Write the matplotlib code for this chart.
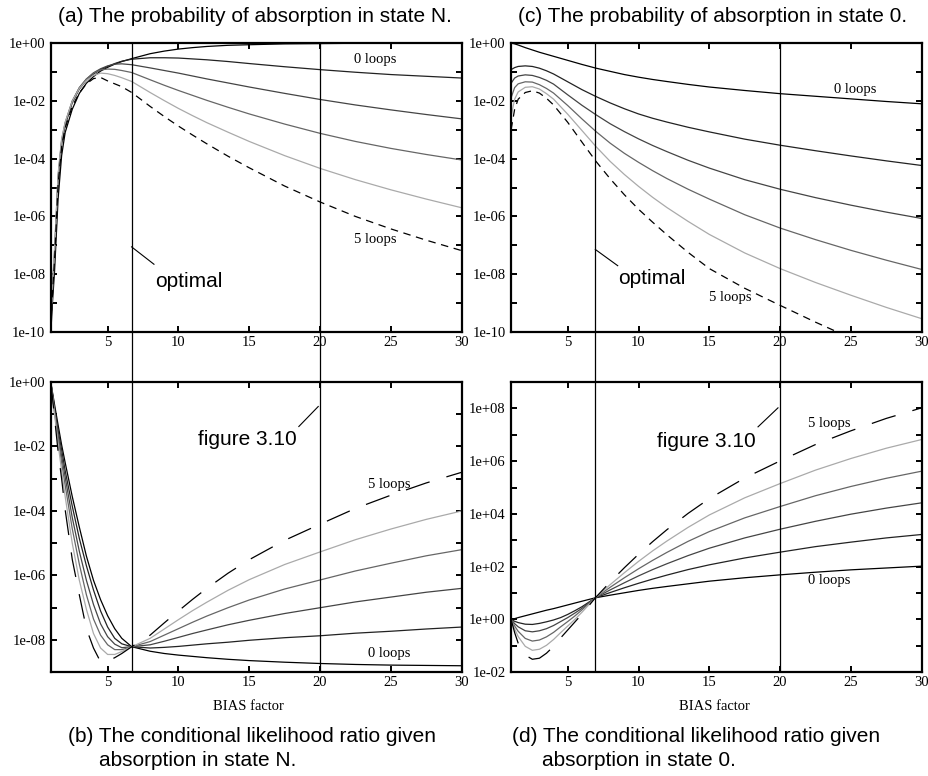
import numpy as np
import matplotlib
matplotlib.use("Agg")
import matplotlib.pyplot as plt
from matplotlib.ticker import FixedLocator, FuncFormatter, NullFormatter

# BIAS factor sample points
x_a = [1, 1.1, 1.25, 1.5, 1.75, 2, 2.5, 3, 3.5, 4, 4.5, 5, 5.5, 6, 6.7,
       8, 9, 10, 11, 12, 13.5, 15, 17.5, 20, 22.5, 25, 27.5, 30]
x_b = [1, 1.25, 1.5, 1.75, 2, 2.5, 3, 3.5, 4, 4.5, 5, 5.5, 6, 6.7,
       8, 9, 10, 11, 12, 13.5, 15, 17.5, 20, 22.5, 25, 27.5, 30]
x_c = [1, 1.25, 1.5, 2, 2.5, 3, 3.5, 4, 5, 6, 7,
       8, 9, 10, 11, 12, 13.5, 15, 17.5, 20, 22.5, 25, 27.5, 30]
x_d = [1, 1.25, 1.5, 2, 2.5, 3, 3.5, 4, 4.5, 5, 5.5, 6, 6.95,
       8, 9, 10, 11, 12, 13.5, 15, 17.5, 20, 22.5, 25, 27.5, 30]

# log10 of the plotted values, one list per number of loops (0..5)
# (a) probability of absorption in state N
a_loop0 = [-9.9, -9.0, -7.9, -5.4, -3.9, -3.1, -2.3, -1.75, -1.4, -1.17, -0.98, -0.85, -0.74, -0.65, -0.55,
           -0.38, -0.29, -0.22, -0.17, -0.13, -0.09, -0.07, -0.04, -0.03, -0.02, -0.02, -0.01, -0.01]
a_loop1 = [-9.7, -8.7, -7.4, -4.8, -3.5, -2.85, -2.07, -1.6, -1.3, -1.08, -0.93, -0.82, -0.72, -0.64, -0.57,
           -0.52, -0.52, -0.53, -0.56, -0.59, -0.65, -0.72, -0.83, -0.93, -1.02, -1.1, -1.16, -1.22]
a_loop2 = [-9.6, -8.6, -7.3, -4.7, -3.42, -2.8, -2.03, -1.56, -1.26, -1.04, -0.9, -0.8, -0.74, -0.73, -0.76,
           -0.87, -0.96, -1.05, -1.15, -1.25, -1.39, -1.53, -1.75, -1.96, -2.15, -2.32, -2.48, -2.63]
a_loop3 = [-9.55, -8.5, -7.2, -4.6, -3.36, -2.76, -2.01, -1.55, -1.25, -1.05, -0.94, -0.91, -0.92, -0.96, -1.03,
           -1.28, -1.47, -1.65, -1.82, -1.99, -2.23, -2.46, -2.81, -3.13, -3.41, -3.65, -3.86, -4.05]
a_loop4 = [-9.5, -8.4, -7.1, -4.55, -3.33, -2.75, -2.02, -1.58, -1.3, -1.13, -1.05, -1.07, -1.13, -1.21, -1.34,
           -1.72, -2.0, -2.27, -2.52, -2.76, -3.09, -3.41, -3.9, -4.34, -4.73, -5.08, -5.4, -5.7]
a_loop5 = [-9.7, -8.7, -7.5, -4.9, -3.6, -2.95, -2.2, -1.73, -1.42, -1.24, -1.2, -1.32, -1.42, -1.52, -1.72,
           -2.2, -2.55, -2.88, -3.19, -3.49, -3.92, -4.32, -4.95, -5.5, -6.0, -6.43, -6.82, -7.18]

# (b) conditional likelihood ratio given absorption in state N
b_loop0 = [-0.05, -0.7, -1.33, -1.95, -2.5, -3.55, -4.5, -5.4, -6.15, -6.75, -7.25, -7.65, -7.95, -8.21,
           -8.35, -8.42, -8.47, -8.51, -8.55, -8.6, -8.64, -8.69, -8.73, -8.76, -8.78, -8.79, -8.8]
b_loop1 = [-0.05, -0.8, -1.5, -2.1, -2.75, -3.85, -4.85, -5.7, -6.45, -7.1, -7.6, -7.95, -8.12, -8.21,
           -8.25, -8.23, -8.2, -8.16, -8.12, -8.07, -8.01, -7.93, -7.87, -7.79, -7.73, -7.66, -7.6]
b_loop2 = [-0.05, -0.9, -1.62, -2.3, -2.95, -4.2, -5.25, -6.15, -6.9, -7.5, -7.9, -8.13, -8.24, -8.21,
           -8.15, -8.04, -7.92, -7.8, -7.69, -7.53, -7.39, -7.18, -7.0, -6.82, -6.67, -6.52, -6.4]
b_loop3 = [-0.05, -0.95, -1.75, -2.5, -3.2, -4.55, -5.65, -6.6, -7.35, -7.85, -8.15, -8.3, -8.3, -8.21,
           -8.05, -7.85, -7.65, -7.45, -7.26, -7.0, -6.76, -6.42, -6.14, -5.86, -5.62, -5.39, -5.2]
b_loop4 = [-0.05, -1.0, -1.92, -2.75, -3.55, -5.0, -6.15, -7.05, -7.8, -8.25, -8.45, -8.45, -8.36, -8.21,
           -7.95, -7.66, -7.37, -7.09, -6.83, -6.46, -6.13, -5.66, -5.27, -4.89, -4.56, -4.26, -4.0]
b_loop5 = [-0.05, -1.1, -2.15, -3.0, -3.96, -5.5, -6.6, -7.65, -8.25, -8.68, -8.66, -8.55, -8.42, -8.21,
           -7.85, -7.47, -7.1, -6.74, -6.4, -5.93, -5.51, -4.91, -4.41, -3.92, -3.51, -3.13, -2.8]

# (c) probability of absorption in state 0
c_loop0 = [-0.01, -0.04, -0.08, -0.17, -0.25, -0.33, -0.4, -0.47, -0.61, -0.75, -0.88,
           -0.99, -1.1, -1.19, -1.27, -1.34, -1.44, -1.53, -1.65, -1.76, -1.85, -1.94, -2.03, -2.11]
c_loop1 = [-0.93, -0.86, -0.82, -0.8, -0.82, -0.88, -0.97, -1.08, -1.35, -1.62, -1.86,
           -2.08, -2.28, -2.46, -2.61, -2.74, -2.92, -3.08, -3.33, -3.54, -3.73, -3.91, -4.08, -4.24]
c_loop2 = [-1.4, -1.22, -1.15, -1.11, -1.13, -1.2, -1.3, -1.43, -1.8, -2.16, -2.49,
           -2.8, -3.07, -3.32, -3.55, -3.76, -4.06, -4.33, -4.73, -5.06, -5.35, -5.61, -5.85, -6.07]
c_loop3 = [-1.9, -1.55, -1.42, -1.35, -1.36, -1.45, -1.58, -1.74, -2.17, -2.63, -3.07,
           -3.47, -3.82, -4.13, -4.42, -4.69, -5.06, -5.4, -5.94, -6.4, -6.8, -7.17, -7.51, -7.83]
c_loop4 = [-2.55, -1.95, -1.7, -1.54, -1.52, -1.6, -1.76, -1.95, -2.47, -3.03, -3.59,
           -4.1, -4.55, -4.96, -5.34, -5.69, -6.17, -6.62, -7.26, -7.8, -8.28, -8.72, -9.14, -9.53]
c_loop5 = [-3.0, -2.3, -1.95, -1.72, -1.66, -1.74, -1.92, -2.15, -2.75, -3.43, -4.1,
           -4.7, -5.25, -5.75, -6.2, -6.63, -7.24, -7.8, -8.48, -9.07, -9.65, -10.2, -10.75, -11.3]

# (d) conditional likelihood ratio given absorption in state 0
d_loop0 = [0.0, 0.03, 0.07, 0.14, 0.21, 0.28, 0.35, 0.41, 0.48, 0.55, 0.62, 0.69, 0.82,
           0.92, 1.01, 1.1, 1.18, 1.25, 1.35, 1.45, 1.58, 1.69, 1.79, 1.88, 1.95, 2.02]
d_loop1 = [0.0, -0.07, -0.12, -0.18, -0.19, -0.15, -0.09, -0.02, 0.07, 0.19, 0.33, 0.48, 0.82,
           1.02, 1.2, 1.37, 1.53, 1.68, 1.89, 2.07, 2.33, 2.55, 2.76, 2.93, 3.09, 3.22]
d_loop2 = [0.0, -0.16, -0.28, -0.43, -0.47, -0.43, -0.35, -0.23, -0.08, 0.07, 0.24, 0.42, 0.82,
           1.12, 1.39, 1.65, 1.89, 2.11, 2.42, 2.7, 3.09, 3.42, 3.72, 3.99, 4.22, 4.42]
d_loop3 = [0.0, -0.25, -0.45, -0.72, -0.82, -0.78, -0.66, -0.49, -0.28, -0.08, 0.13, 0.36, 0.82,
           1.22, 1.58, 1.92, 2.24, 2.54, 2.96, 3.33, 3.85, 4.28, 4.69, 5.04, 5.35, 5.62]
d_loop4 = [0.0, -0.36, -0.65, -1.02, -1.17, -1.13, -0.98, -0.76, -0.5, -0.25, 0.0, 0.27, 0.82,
           1.32, 1.77, 2.2, 2.6, 2.97, 3.49, 3.96, 4.61, 5.15, 5.66, 6.1, 6.49, 6.82]
d_loop5 = [0.0, -0.5, -0.9, -1.35, -1.51, -1.47, -1.28, -1.02, -0.7, -0.4, -0.1, 0.2, 0.82,
           1.42, 1.96, 2.47, 2.95, 3.4, 4.02, 4.58, 5.36, 6.01, 6.63, 7.15, 7.62, 8.02]

optimal_left = 6.7
optimal_right = 6.95
fig310 = 20

titles = ["(a) The probability of absorption in state N.",
          "(c) The probability of absorption in state 0."]
captions = [["(b) The conditional likelihood ratio given", "absorption in state N."],
            ["(d) The conditional likelihood ratio given", "absorption in state 0."]]

SERIF = "Liberation Serif"
SANS = "Liberation Sans"
colors = ["#000000", "#222222", "#444444", "#666666", "#aaaaaa"]

W, H = 929.0, 776.0
fig = plt.figure(figsize=(W / 100, H / 100), dpi=100)


def px_axes(l, t, r, b):
    return fig.add_axes([l / W, 1 - b / H, (r - l) / W, (b - t) / H])


ax_a = px_axes(51, 42.7, 461.7, 332.3)
ax_c = px_axes(511.1, 42.7, 921.7, 332.3)
ax_b = px_axes(51, 382, 461.7, 672.2)
ax_d = px_axes(511.1, 382, 921.7, 672.2)


def fmt(v, p):
    return "1e%+03d" % int(round(np.log10(v)))


def style(ax, lo, hi, major):
    ax.set_yscale("log")
    ax.set_xlim(1, 30)
    ax.set_ylim(10.0 ** lo, 10.0 ** hi)
    ax.set_xticks([5, 10, 15, 20, 25, 30])
    ax.yaxis.set_major_locator(FixedLocator([10.0 ** e for e in major]))
    minor = [10.0 ** e for e in range(int(np.floor(lo)), int(np.ceil(hi)) + 1) if e not in major]
    ax.yaxis.set_minor_locator(FixedLocator(minor))
    ax.yaxis.set_major_formatter(FuncFormatter(fmt))
    ax.yaxis.set_minor_formatter(NullFormatter())
    ax.tick_params(which="both", direction="in", top=True, right=True,
                   length=4, width=1.4, labelsize=10.5, pad=3)
    ax.tick_params(axis="y", pad=4)
    for lab in ax.get_xticklabels() + ax.get_yticklabels():
        lab.set_family(SERIF)
    for s in ax.spines.values():
        s.set_linewidth(1.6)


def curves(ax, x, ys, dash):
    for k, y in enumerate(ys[:5]):
        ax.plot(x, np.power(10.0, y), color=colors[k], lw=0.9)
    ax.plot(x, np.power(10.0, ys[5]), color="black", lw=0.9, linestyle=(0, dash))


curves(ax_a, x_a, [a_loop0, a_loop1, a_loop2, a_loop3, a_loop4, a_loop5], (6, 4.5))
curves(ax_c, x_c, [c_loop0, c_loop1, c_loop2, c_loop3, c_loop4, c_loop5], (6, 4.5))
curves(ax_b, x_b, [b_loop0, b_loop1, b_loop2, b_loop3, b_loop4, b_loop5], (20, 14))
curves(ax_d, x_d, [d_loop0, d_loop1, d_loop2, d_loop3, d_loop4, d_loop5], (20, 14))

style(ax_a, -10, 0, [0, -2, -4, -6, -8, -10])
style(ax_c, -10, 0, [0, -2, -4, -6, -8, -10])
style(ax_b, -9, 0, [0, -2, -4, -6, -8])
style(ax_d, -2, 9, [-2, 0, 2, 4, 6, 8])

# vertical marker lines running through both rows
gap = (382 - 332.3) / (332.3 - 42.7)
for top, bot, xo in [(ax_a, ax_b, optimal_left), (ax_c, ax_d, optimal_right)]:
    for xv in (xo, fig310):
        top.axvline(xv, ymin=-gap, ymax=1, color="black", lw=0.9, clip_on=False)
        bot.axvline(xv, color="black", lw=0.9)

# loop labels
lab = dict(family=SERIF, fontsize=10.5, ha="center", va="center")
ax_a.text(23.9, 10 ** -0.59, "0 loops", **lab)
ax_a.text(23.9, 10 ** -6.79, "5 loops", **lab)
ax_c.text(25.3, 10 ** -1.6, "0 loops", **lab)
ax_c.text(16.5, 10 ** -8.81, "5 loops", **lab)
ax_b.text(24.85, 10 ** -3.17, "5 loops", **lab)
ax_b.text(24.85, 10 ** -8.42, "0 loops", **lab)
ax_d.text(23.5, 10 ** 7.43, "5 loops", **lab)
ax_d.text(23.5, 10 ** 1.47, "0 loops", **lab)

# annotations
ann = dict(family=SANS, fontsize=15, ha="center", va="center")
ax_a.plot([6.69, 8.27], [10 ** -7.05, 10 ** -7.65], color="black", lw=0.8)
ax_a.text(10.75, 10 ** -8.26, "optimal", **ann)
ax_c.plot([6.95, 8.53], [10 ** -7.14, 10 ** -7.7], color="black", lw=0.8)
ax_c.text(10.96, 10 ** -8.13, "optimal", **ann)
ax_b.plot([18.5, 19.87], [10 ** -1.38, 10 ** -0.76], color="black", lw=0.8)
ax_b.text(14.9, 10 ** -1.79, "figure 3.10", **ann)
ax_d.plot([18.44, 19.85], [10 ** 7.3, 10 ** 8.02], color="black", lw=0.8)
ax_d.text(14.8, 10 ** 6.74, "figure 3.10", **ann)

# x axis labels
fig.text(248.3 / W, 1 - 706 / H, "BIAS factor", family=SERIF, fontsize=10.5, ha="center", va="center")
fig.text(714.5 / W, 1 - 706 / H, "BIAS factor", family=SERIF, fontsize=10.5, ha="center", va="center")

# sub-figure titles and captions
fig.text(255 / W, 1 - 16.7 / H, titles[0], family=SANS, fontsize=15, ha="center", va="center")
fig.text(712.5 / W, 1 - 16.7 / H, titles[1], family=SANS, fontsize=15, ha="center", va="center")
fig.text(68 / W, 1 - 736.7 / H, captions[0][0], family=SANS, fontsize=15, ha="left", va="center")
fig.text(99 / W, 1 - 760 / H, captions[0][1], family=SANS, fontsize=15, ha="left", va="center")
fig.text(512 / W, 1 - 736.7 / H, captions[1][0], family=SANS, fontsize=15, ha="left", va="center")
fig.text(542 / W, 1 - 760 / H, captions[1][1], family=SANS, fontsize=15, ha="left", va="center")

fig.savefig("out.png", dpi=100)
